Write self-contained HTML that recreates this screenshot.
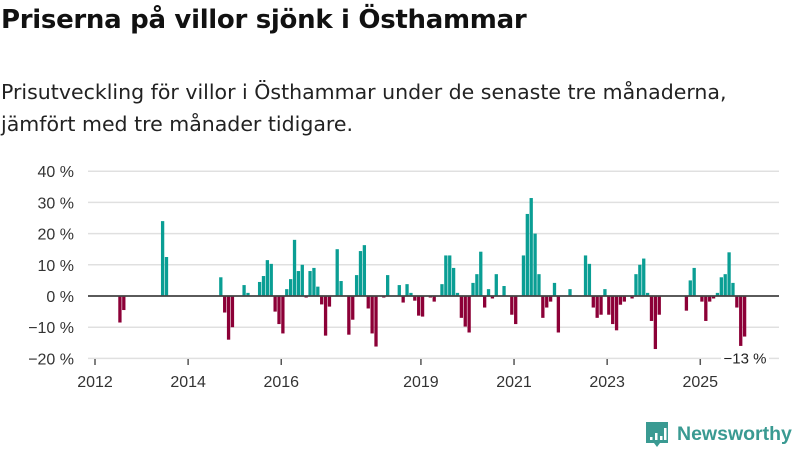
<!DOCTYPE html>
<html><head><meta charset="utf-8">
<style>
body{margin:0;width:800px;height:450px;background:#fff;font-family:"Liberation Sans","DejaVu Sans",sans-serif;overflow:hidden;position:relative}
#title{position:absolute;left:1px;top:5px;font-family:"DejaVu Sans",sans-serif;font-size:26px;font-weight:bold;color:#111;margin:0;letter-spacing:-0.3px}
#sub{position:absolute;left:1px;top:76px;font-family:"DejaVu Sans",sans-serif;font-size:20.5px;line-height:32px;color:#222;margin:0}
svg{position:absolute;left:0;top:0}
</style></head><body>
<h1 id="title">Priserna på villor sjönk i Östhammar</h1>
<p id="sub">Prisutveckling för villor i Östhammar under de senaste tre månaderna,<br>jämfört med tre månader tidigare.</p>
<svg id="chart" width="800" height="450"></svg>
<script>
const yTicks=[40,30,20,10,0,-10,-20];
const yTickLabels=["40 %","30 %","20 %","10 %","0 %","−10 %","−20 %"];
const xTickYears=[2012,2014,2016,2019,2021,2023,2025];
const startYear=2012;
const monthIdx=[6,7,17,18,32,33,34,35,38,39,42,43,44,45,46,47,48,49,50,51,52,53,54,55,56,57,58,59,60,62,63,65,66,67,68,69,70,71,72,74,75,78,79,80,81,82,83,84,86,87,89,90,91,92,93,94,95,96,97,98,99,100,101,102,103,105,107,108,110,111,112,113,114,115,116,117,118,119,122,126,127,128,129,130,131,132,133,134,135,136,138,139,140,141,142,143,144,145,152,153,154,156,157,158,159,160,161,162,163,164,165,166,167];
const values=[-8.5,-4.5,24,12.5,6,-5.3,-14,-10,3.5,1,4.5,6.4,11.5,10.3,-5,-9,-12,2.2,5.4,18,8,10,-0.5,8,9,3,-2.7,-12.7,-3.4,15,4.8,-12.4,-7.6,6.7,14.4,16.3,-4,-12,-16.2,-0.5,6.7,3.5,-2.1,3.8,1,-1.5,-6.3,-6.6,-0.5,-1.8,3.8,13,13,9,1,-7,-9.8,-11.7,4.2,7,14.2,-3.7,2.2,-0.8,7,3.2,-6,-9,13,26.3,31.4,20,7,-7,-3.7,-1.8,4.2,-11.7,2.2,13,10.3,-3.7,-7,-6,2.2,-6,-9,-11,-2.8,-1.8,-0.8,7,10,12,1,-8,-17,-6,-4.7,5,9,-1.8,-8,-1.8,-0.8,1,6,7,14,4.2,-3.7,-16,-13];
const lastLabel="−13 %";
const svg=document.getElementById('chart');const NS='http://www.w3.org/2000/svg';
const y=v=>296-v*3.12;
const x=m=>95+m*3.88;
function mk(t,a){const e=document.createElementNS(NS,t);for(const k in a)e.setAttribute(k,a[k]);svg.appendChild(e);return e;}
yTicks.forEach((t,i)=>{
 const g=mk('line',{x1:88,x2:779,y1:y(t),y2:y(t),stroke:'#e0e0e0','stroke-width':1.5});
 
 
 const l=mk('text',{x:74,y:y(t)+6,'text-anchor':'end','font-size':16,fill:'#333'});l.textContent=yTickLabels[i];
 
 
});
xTickYears.forEach(yr=>{
 const px=x((yr-startYear)*12);
 const t=mk('line',{x1:px,x2:px,y1:359,y2:365,stroke:'#555','stroke-width':1.5});
 
 
 const l=mk('text',{x:px,y:387,'text-anchor':'middle','font-size':16,fill:'#333'});l.textContent=yr;
 
 
});
values.forEach((v,i)=>{
 const px=x(monthIdx[i]);
 const r=mk('rect',{x:px,y:Math.min(y(v),y(0)),width:3.3,height:Math.abs(y(v)-y(0)),fill:v>=0?'#0a9e94':'#8c0037'});
 
 
});
const z=mk('line',{x1:88,x2:779,y1:y(0),y2:y(0),stroke:'#444','stroke-width':1.8});


const lx=x(monthIdx[monthIdx.length-1]);
const bg=mk('rect',{x:lx-22,y:y(-20)-11,width:48,height:20,fill:'#fff'});


const lv=mk('text',{x:lx+2,y:y(-20)+5,'text-anchor':'middle','font-size':15,fill:'#222'});lv.textContent=lastLabel;


const logo=mk('g',{});


const ic=document.createElementNS(NS,'path');ic.setAttribute('d','M646 422h22v21h-8l-3 4-3-4h-8z');ic.setAttribute('fill','#3a9a92');logo.appendChild(ic);
[[650,437,3],[655,433,7],[660,436,4],[664,428,12]].forEach(b=>{const r=document.createElementNS(NS,'rect');r.setAttribute('x',b[0]);r.setAttribute('y',b[1]);r.setAttribute('width',2.5);r.setAttribute('height',b[2]);r.setAttribute('fill','#fff');logo.appendChild(r);});
const lt=document.createElementNS(NS,'text');lt.setAttribute('x',677);lt.setAttribute('y',440);lt.setAttribute('font-size',19.5);lt.setAttribute('font-weight','bold');lt.setAttribute('fill','#3a9a92');lt.textContent='Newsworthy';logo.appendChild(lt);
</script>
</body></html>
